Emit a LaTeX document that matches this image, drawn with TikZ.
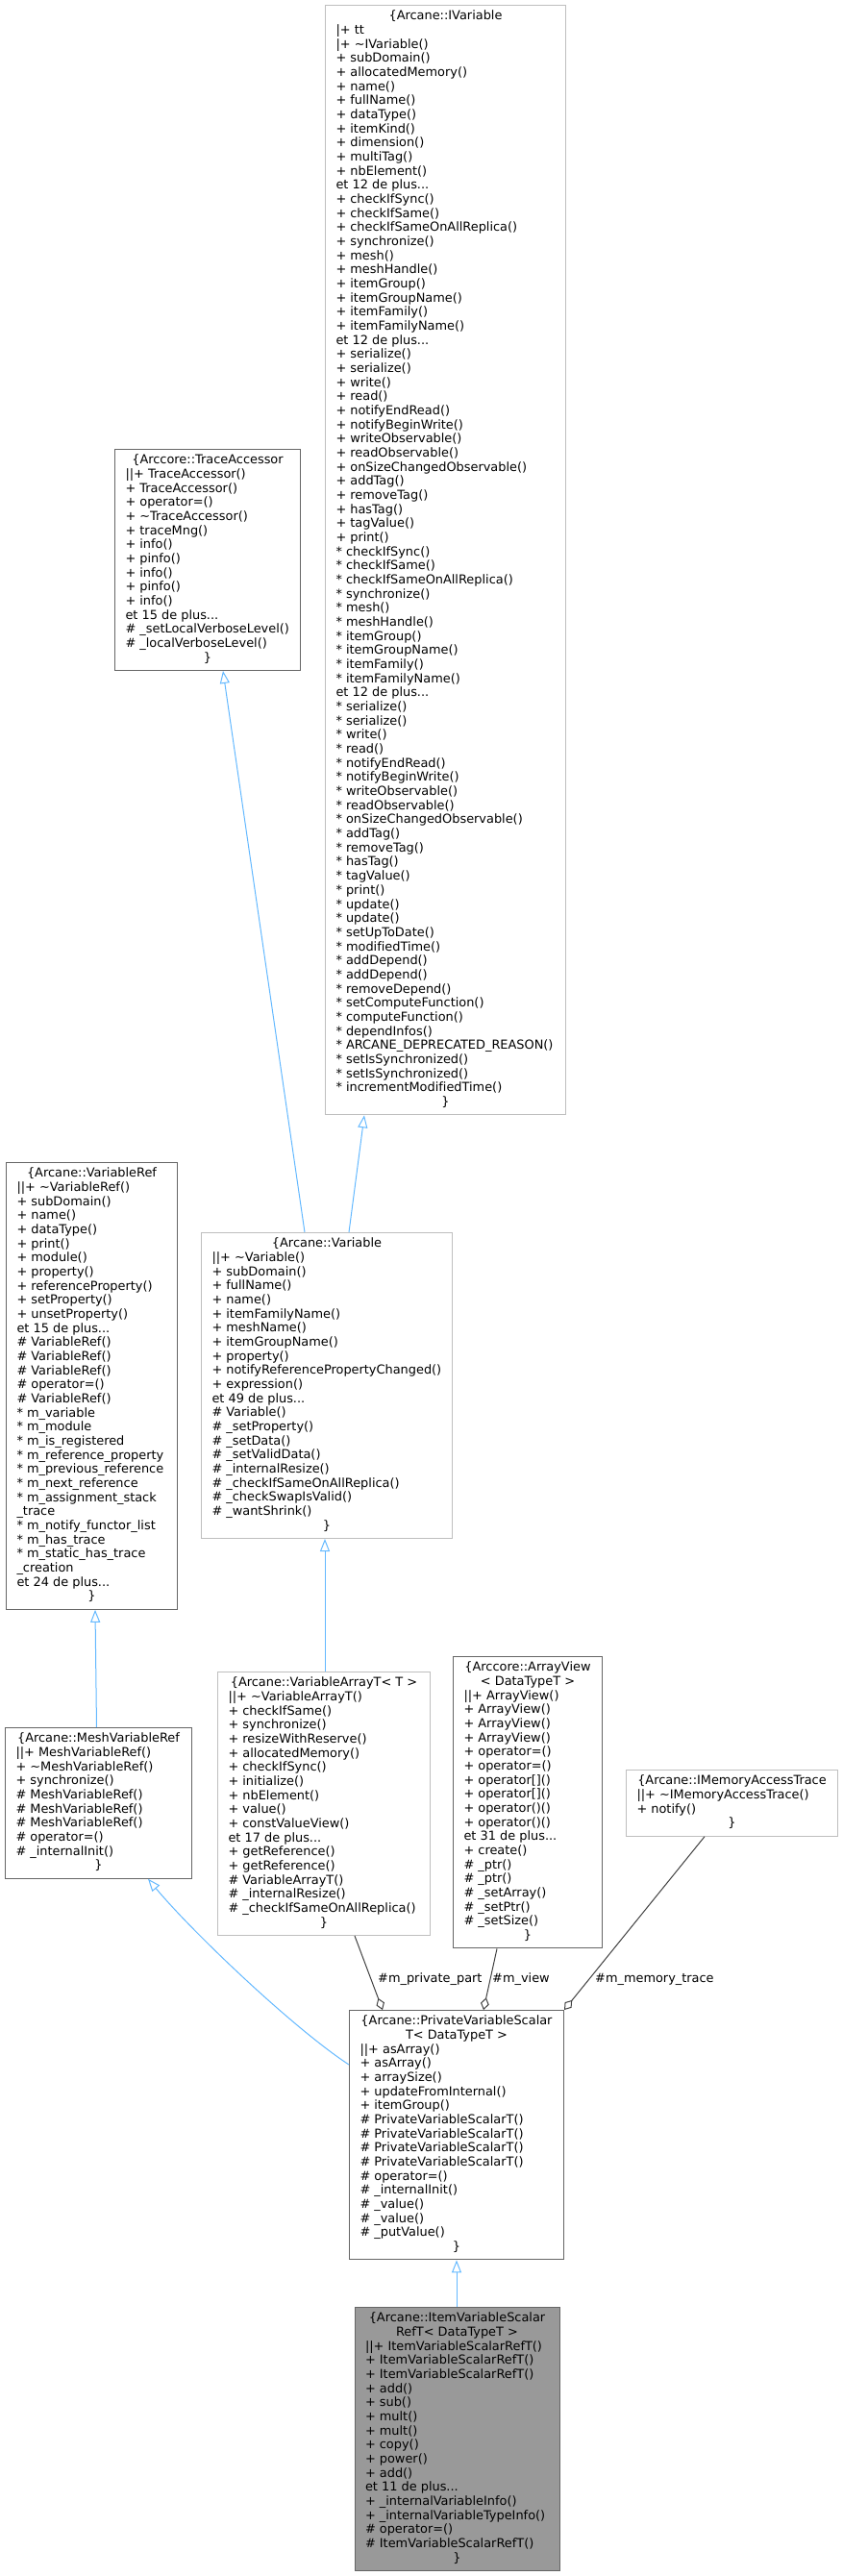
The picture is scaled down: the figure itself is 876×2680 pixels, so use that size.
\documentclass[tikz,border=0pt]{standalone}
\usepackage{fontspec}
\setmainfont{DejaVu Sans}[Ligatures=NoCommon]
\usetikzlibrary{arrows.meta}
\definecolor{edgeblue}{HTML}{63B8FF}
\definecolor{aggc}{HTML}{404040}
\definecolor{dkb}{HTML}{666666}
\definecolor{ltb}{HTML}{BFBFBF}
\definecolor{focusfill}{HTML}{999999}
\newcommand\hd[2]{\makebox[#1pt][c]{#2}}
\newcommand\tld{\textasciitilde}
\tikzset{
  clsbox/.style={fill=white, line width=1pt, inner sep=0pt, anchor=north west, text=black,
    font=\fontsize{12.9pt}{14.67pt}\selectfont},
  dk/.style={draw=dkb},
  lt/.style={draw=ltb},
  focus/.style={draw=dkb, fill=focusfill},
  inh/.style={draw=edgeblue, line width=1pt, -{Triangle[open, length=13pt, width=10pt]}},
  agg/.style={draw=aggc, line width=1pt, -{Diamond[open, length=13pt, width=9pt]}},
  lbl/.style={inner sep=0pt, anchor=west, text=black, font=\fontsize{12.9pt}{14.67pt}\selectfont},
}
\begin{document}
\begin{tikzpicture}[x=1pt,y=-1pt]
\useasboundingbox (0,0) rectangle (876,2680);

% IVariable
\node[clsbox, lt, minimum width=250pt, minimum height=1154.3pt] (iv) at (338,5) {\begin{tabular}{@{}l@{}}
\hd{228}{\{Arcane::IVariable}\\
|+ tt\\
|+ \tld IVariable()\\
+ subDomain()\\
+ allocatedMemory()\\
+ name()\\
+ fullName()\\
+ dataType()\\
+ itemKind()\\
+ dimension()\\
+ multiTag()\\
+ nbElement()\\
et 12 de plus...\\
+ checkIfSync()\\
+ checkIfSame()\\
+ checkIfSameOnAllReplica()\\
+ synchronize()\\
+ mesh()\\
+ meshHandle()\\
+ itemGroup()\\
+ itemGroupName()\\
+ itemFamily()\\
+ itemFamilyName()\\
et 12 de plus...\\
+ serialize()\\
+ serialize()\\
+ write()\\
+ read()\\
+ notifyEndRead()\\
+ notifyBeginWrite()\\
+ writeObservable()\\
+ readObservable()\\
+ onSizeChangedObservable()\\
+ addTag()\\
+ removeTag()\\
+ hasTag()\\
+ tagValue()\\
+ print()\\
{*} checkIfSync()\\
{*} checkIfSame()\\
{*} checkIfSameOnAllReplica()\\
{*} synchronize()\\
{*} mesh()\\
{*} meshHandle()\\
{*} itemGroup()\\
{*} itemGroupName()\\
{*} itemFamily()\\
{*} itemFamilyName()\\
et 12 de plus...\\
{*} serialize()\\
{*} serialize()\\
{*} write()\\
{*} read()\\
{*} notifyEndRead()\\
{*} notifyBeginWrite()\\
{*} writeObservable()\\
{*} readObservable()\\
{*} onSizeChangedObservable()\\
{*} addTag()\\
{*} removeTag()\\
{*} hasTag()\\
{*} tagValue()\\
{*} print()\\
{*} update()\\
{*} update()\\
{*} setUpToDate()\\
{*} modifiedTime()\\
{*} addDepend()\\
{*} addDepend()\\
{*} removeDepend()\\
{*} setComputeFunction()\\
{*} computeFunction()\\
{*} dependInfos()\\
{*} ARCANE\_DEPRECATED\_REASON()\\
{*} setIsSynchronized()\\
{*} setIsSynchronized()\\
{*} incrementModifiedTime()\\
\hd{228}{\}}
\end{tabular}};

% TraceAccessor
\node[clsbox, dk, minimum width=193pt, minimum height=230pt] (ta) at (119,467) {\begin{tabular}{@{}l@{}}
\hd{171}{\{Arccore::TraceAccessor}\\
||+ TraceAccessor()\\
+ TraceAccessor()\\
+ operator=()\\
+ \tld TraceAccessor()\\
+ traceMng()\\
+ info()\\
+ pinfo()\\
+ info()\\
+ pinfo()\\
+ info()\\
et 15 de plus...\\
\# \_setLocalVerboseLevel()\\
\# \_localVerboseLevel()\\
\hd{171}{\}}
\end{tabular}};

% VariableRef
\node[clsbox, dk, minimum width=178pt, minimum height=464.8pt] (vr) at (6,1209) {\begin{tabular}{@{}l@{}}
\hd{156}{\{Arcane::VariableRef}\\
||+ \tld VariableRef()\\
+ subDomain()\\
+ name()\\
+ dataType()\\
+ print()\\
+ module()\\
+ property()\\
+ referenceProperty()\\
+ setProperty()\\
+ unsetProperty()\\
et 15 de plus...\\
\# VariableRef()\\
\# VariableRef()\\
\# VariableRef()\\
\# operator=()\\
\# VariableRef()\\
{*} m\_variable\\
{*} m\_module\\
{*} m\_is\_registered\\
{*} m\_reference\_property\\
{*} m\_previous\_reference\\
{*} m\_next\_reference\\
{*} m\_assignment\_stack\\
\_trace\\
{*} m\_notify\_functor\_list\\
{*} m\_has\_trace\\
{*} m\_static\_has\_trace\\
\_creation\\
et 24 de plus...\\
\hd{156}{\}}
\end{tabular}};

% Variable
\node[clsbox, lt, minimum width=261pt, minimum height=318pt] (v) at (209,1282) {\begin{tabular}{@{}l@{}}
\hd{239}{\{Arcane::Variable}\\
||+ \tld Variable()\\
+ subDomain()\\
+ fullName()\\
+ name()\\
+ itemFamilyName()\\
+ meshName()\\
+ itemGroupName()\\
+ property()\\
+ notifyReferencePropertyChanged()\\
+ expression()\\
et 49 de plus...\\
\# Variable()\\
\# \_setProperty()\\
\# \_setData()\\
\# \_setValidData()\\
\# \_internalResize()\\
\# \_checkIfSameOnAllReplica()\\
\# \_checkSwapIsValid()\\
\# \_wantShrink()\\
\hd{239}{\}}
\end{tabular}};

% VariableArrayT
\node[clsbox, lt, minimum width=221pt, minimum height=274pt] (vat) at (226,1739) {\begin{tabular}{@{}l@{}}
\hd{199}{\{Arcane::VariableArrayT< T >}\\
||+ \tld VariableArrayT()\\
+ checkIfSame()\\
+ synchronize()\\
+ resizeWithReserve()\\
+ allocatedMemory()\\
+ checkIfSync()\\
+ initialize()\\
+ nbElement()\\
+ value()\\
+ constValueView()\\
et 17 de plus...\\
+ getReference()\\
+ getReference()\\
\# VariableArrayT()\\
\# \_internalResize()\\
\# \_checkIfSameOnAllReplica()\\
\hd{199}{\}}
\end{tabular}};

% ArrayView
\node[clsbox, dk, minimum width=155pt, minimum height=303.4pt] (av) at (471,1723) {\begin{tabular}{@{}l@{}}
\hd{133}{\{Arccore::ArrayView}\\
\hd{133}{< DataTypeT >}\\
||+ ArrayView()\\
+ ArrayView()\\
+ ArrayView()\\
+ ArrayView()\\
+ operator=()\\
+ operator=()\\
+ operator[]()\\
+ operator[]()\\
+ operator()()\\
+ operator()()\\
et 31 de plus...\\
+ create()\\
\# \_ptr()\\
\# \_ptr()\\
\# \_setArray()\\
\# \_setPtr()\\
\# \_setSize()\\
\hd{133}{\}}
\end{tabular}};

% IMemoryAccessTrace
\node[clsbox, lt, minimum width=220pt, minimum height=68.7pt] (imat) at (651,1841) {\begin{tabular}{@{}l@{}}
\hd{198}{\{Arcane::IMemoryAccessTrace}\\
||+ \tld IMemoryAccessTrace()\\
+ notify()\\
\hd{198}{\}}
\end{tabular}};

% MeshVariableRef
\node[clsbox, dk, minimum width=194pt, minimum height=156.7pt] (mvr) at (5,1797) {\begin{tabular}{@{}l@{}}
\hd{172}{\{Arcane::MeshVariableRef}\\
||+ MeshVariableRef()\\
+ \tld MeshVariableRef()\\
+ synchronize()\\
\# MeshVariableRef()\\
\# MeshVariableRef()\\
\# MeshVariableRef()\\
\# operator=()\\
\# \_internalInit()\\
\hd{172}{\}}
\end{tabular}};

% PrivateVariableScalarT
\node[clsbox, dk, minimum width=223pt, minimum height=259.4pt] (pvst) at (363,2091) {\begin{tabular}{@{}l@{}}
\hd{201}{\{Arcane::PrivateVariableScalar}\\
\hd{201}{T< DataTypeT >}\\
||+ asArray()\\
+ asArray()\\
+ arraySize()\\
+ updateFromInternal()\\
+ itemGroup()\\
\# PrivateVariableScalarT()\\
\# PrivateVariableScalarT()\\
\# PrivateVariableScalarT()\\
\# PrivateVariableScalarT()\\
\# operator=()\\
\# \_internalInit()\\
\# \_value()\\
\# \_value()\\
\# \_putValue()\\
\hd{201}{\}}
\end{tabular}};

% ItemVariableScalarRefT
\node[clsbox, focus, minimum width=213pt, minimum height=274pt] (ivsr) at (368.5,2400) {\begin{tabular}{@{}l@{}}
\hd{191}{\{Arcane::ItemVariableScalar}\\
\hd{191}{RefT< DataTypeT >}\\
||+ ItemVariableScalarRefT()\\
+ ItemVariableScalarRefT()\\
+ ItemVariableScalarRefT()\\
+ add()\\
+ sub()\\
+ mult()\\
+ mult()\\
+ copy()\\
+ power()\\
+ add()\\
et 11 de plus...\\
+ \_internalVariableInfo()\\
+ \_internalVariableTypeInfo()\\
\# operator=()\\
\# ItemVariableScalarRefT()\\
\hd{191}{\}}
\end{tabular}};

% inheritance connectors
\draw[inh] ([xshift=108pt]v.north west) -- ([xshift=113pt]ta.south west);
\draw[inh] ([xshift=154pt]v.north west) -- ([xshift=41pt]iv.south west);
\draw[inh] ([xshift=95.5pt]mvr.north west) -- ([xshift=93pt]vr.south west);
\draw[inh] ([xshift=112pt]vat.north west) -- ([xshift=129pt]v.south west);
\draw[inh] ([yshift=-57pt]pvst.north west) .. controls (305,2110) and (200,2010) .. ([xshift=149pt]mvr.south west);
\draw[inh] ([xshift=106.5pt]ivsr.north west) -- ([xshift=112pt]pvst.south west);

% aggregation connectors
\draw[agg] ([xshift=143pt]vat.south west) -- ([xshift=35pt]pvst.north west);
\draw[agg] ([xshift=46pt]av.south west) -- ([xshift=140pt]pvst.north west);
\draw[agg] ([xshift=82pt]imat.south west) -- (pvst.north east);

\node[lbl] (lpp) at (393,2059) {\#m\_private\_part};
\node[lbl] (lmv) at (512,2059) {\#m\_view};
\node[lbl] (lmt) at (619,2059) {\#m\_memory\_trace};
\end{tikzpicture}
\end{document}
